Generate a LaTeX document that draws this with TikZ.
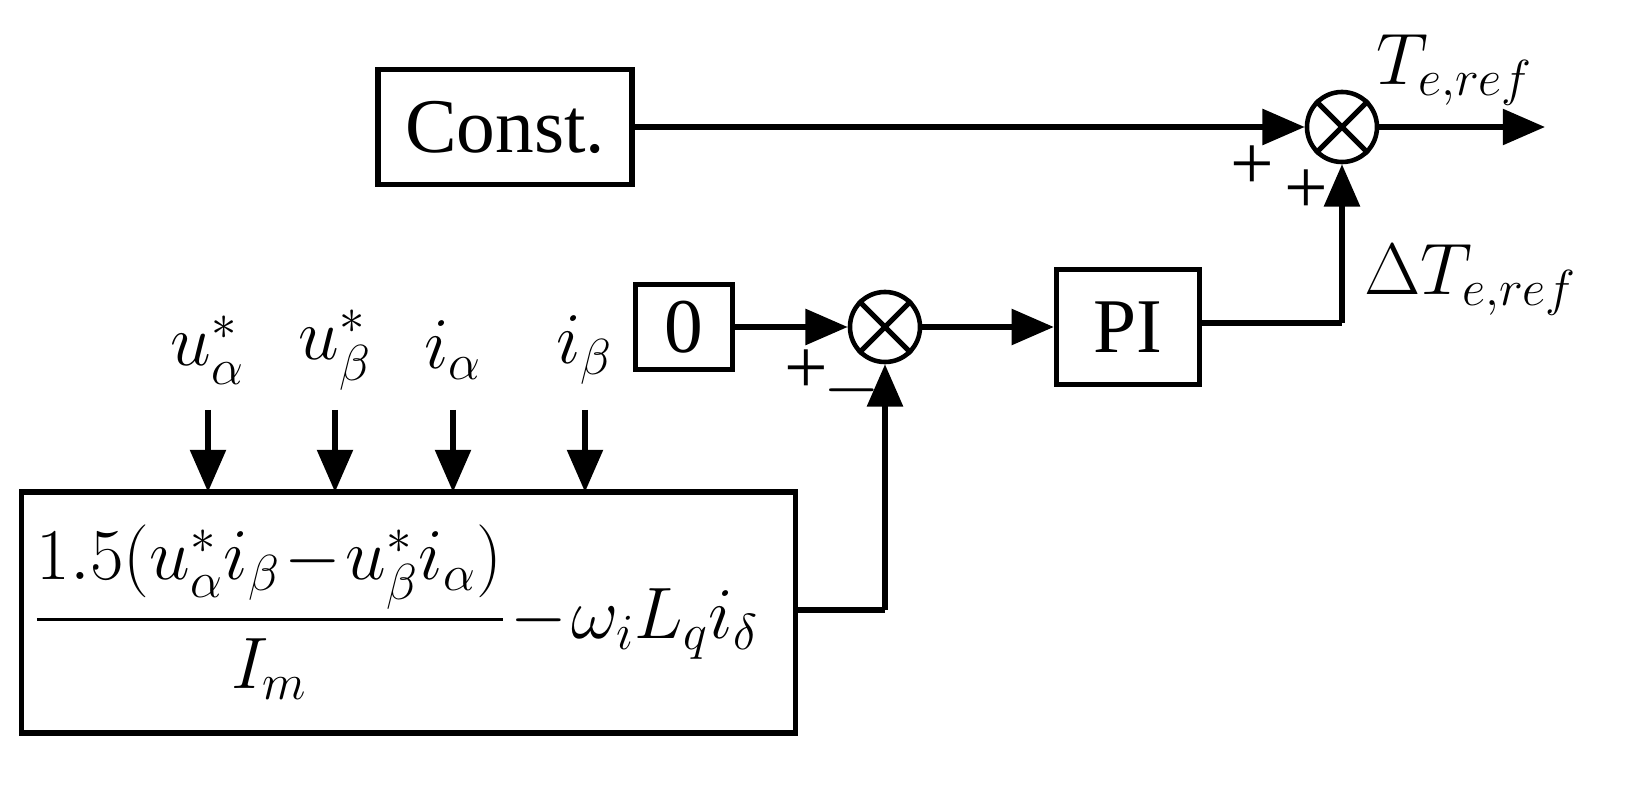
\documentclass[tikz,border=0pt]{standalone}
\usepackage{amsmath}
\usepackage{fontspec}
\setmainfont{Liberation Serif}
\usetikzlibrary{arrows.meta}
\begin{document}
\begin{tikzpicture}[x=0.01cm,y=-0.01cm,
  ln/.style={line width=1.5pt},
  ar/.style={ln,-{Triangle[length=12pt,width=10pt]}},
  box/.style={draw,line width=1.5pt,inner sep=0pt},
  sum/.style={draw,circle,line width=1.3pt,minimum size=0.7cm,inner sep=0pt},
  lab/.style={font=\fontsize{22}{26}\selectfont}]
\useasboundingbox (0,0) rectangle (1647,788);
\node[box,minimum width=2.54cm,minimum height=1.15cm,lab] (const) at (505,127) {Const.};
\node[sum] (s1) at (1342,127) {};
\draw[ln] (s1.45)--(s1.225) (s1.135)--(s1.315);
\coordinate (out) at (1545,127);
\draw[ar] (const.east)--(s1.west);
\draw[ar] (s1.east)--(out);
\node[lab] (te) at (1455,70) {$T_{e,ref}$};
\node[lab] (p1) at (1252,168) {+};
\node[lab] (p2) at (1306,192) {+};
\node[box,minimum width=1.43cm,minimum height=1.15cm,lab] (pi) at (1128,327) {PI};
\coordinate (c1) at (1342,323);
\draw[ln] (pi.east|-c1)--(c1);
\draw[ar] (c1)--(s1.south);
\node[lab,anchor=west] (dte) at (1352,280) {$\Delta T_{e,ref}$};
\node[sum] (s2) at (885,327) {};
\draw[ln] (s2.45)--(s2.225) (s2.135)--(s2.315);
\node[box,minimum width=0.97cm,minimum height=0.85cm,lab] (zero) at (684,327) {0};
\draw[ar] (zero.east)--(s2.west);
\draw[ar] (s2.east)--(pi.west);
\node[lab] (p3) at (806,372) {+};
\node[lab] (m3) at (852,390) {$-$};
\node[box,minimum width=7.73cm,minimum height=2.41cm] (eq) at (408.5,612.5) {};
\node[font=\fontsize{20}{24}\selectfont,anchor=west,inner sep=0pt] (f) at (32,612) {$\medmuskip=1mu\dfrac{1.5(u_\alpha^{*}i_\beta-u_\beta^{*}i_\alpha)}{I_m}-\omega_i L_q i_\delta$};
\coordinate (c2) at (885,610);
\draw[ln] (eq.east|-c2)--(c2);
\draw[ar] (c2)--(s2.south);
\foreach \x/\t/\n in {208/u_\alpha^{*}/a,335/u_\beta^{*}/b,453/i_\alpha/c,585/i_\beta/d}{
  \node[lab] (l\n) at (\x,350) {$\t$};
  \coordinate (t\n) at (\x,410);
  \draw[ar] (t\n)--(\x,492);
}
\end{tikzpicture}
\end{document}
